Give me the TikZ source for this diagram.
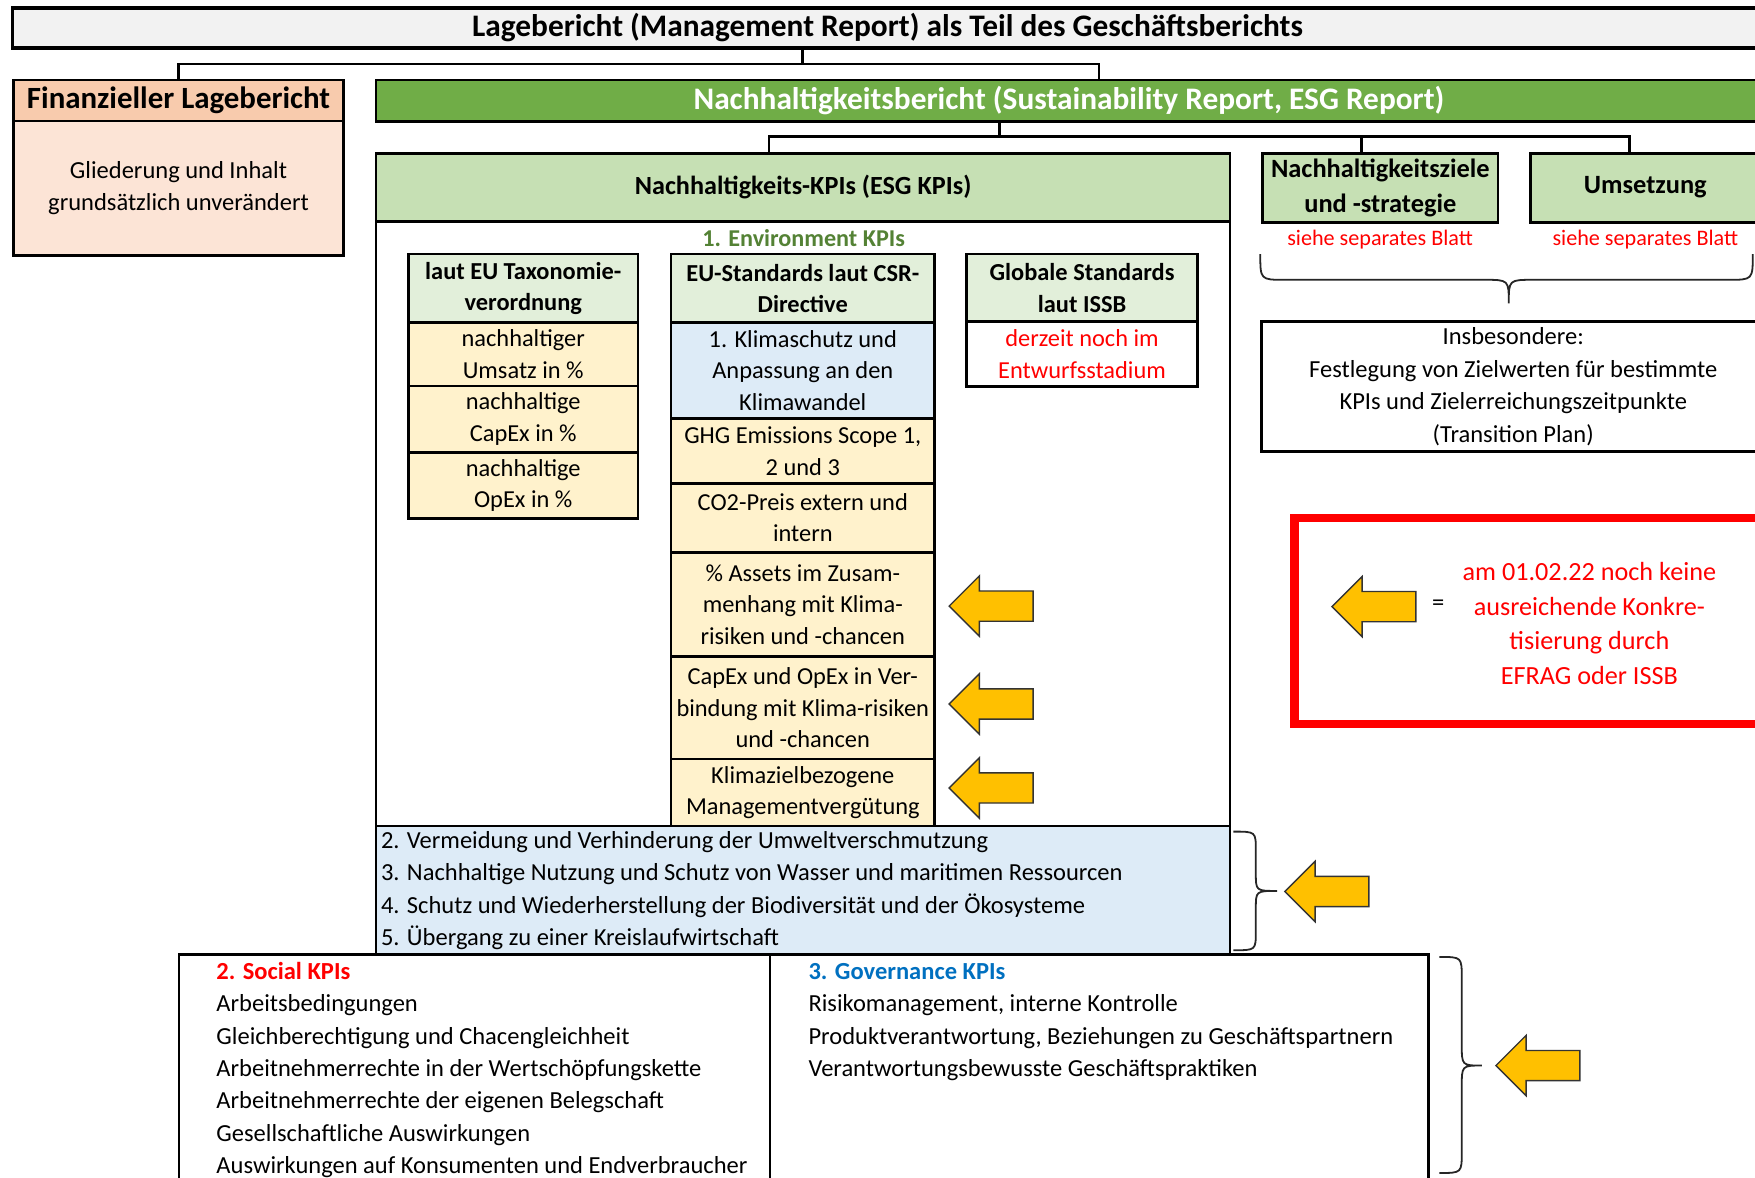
\documentclass[tikz,border=0pt]{standalone}
\usepackage{fontspec}
\setmainfont{Carlito}
\definecolor{titlegray}{HTML}{F2F2F2}
\definecolor{peachdark}{HTML}{F8CBAD}
\definecolor{peachlight}{HTML}{FCE4D6}
\definecolor{esggreen}{HTML}{70AD47}
\definecolor{headgreen}{HTML}{C6E0B4}
\definecolor{palegreen}{HTML}{E2EFDA}
\definecolor{cellyellow}{HTML}{FFF2CC}
\definecolor{cellblue}{HTML}{DDEBF7}
\definecolor{arrowgold}{HTML}{FFC000}
\definecolor{envgreen}{HTML}{548235}
\definecolor{govblue}{HTML}{0070C0}
\definecolor{alertred}{HTML}{FF0000}
\newcommand\cellbox[7]{\node[#6, minimum width={(#4-#2)*0.5pt}, minimum height={(#5-#3)*0.5pt}] (#1) at ({(#2+#4)/2},{(#3+#5)/2}) {#7};}
\newcommand\goldarrow[2]{\draw[goldarr] (#1,#2) -- ++(27,-27) -- ++(0,13.5) -- ++(48,0) -- ++(0,27) -- ++(-48,0) -- ++(0,13.5) -- cycle;}
\tikzset{
  boxline/.style={draw=black, line width=1.2pt, inner sep=0pt, outer sep=0pt},
  cell/.style={boxline, align=center, font=\fontsize{10.9}{14}\selectfont},
  headcell/.style={cell, fill=palegreen, font=\fontsize{10.9}{14}\selectfont\bfseries},
  yelcell/.style={cell, fill=cellyellow},
  plaintext/.style={inner sep=0pt, font=\fontsize{10.95}{14.5}\selectfont},
  boldtext/.style={inner sep=0pt, font=\fontsize{10.8}{15.5}\selectfont\bfseries, align=center},
  headbold/.style={inner sep=0pt, font=\fontsize{11.8}{15.5}\selectfont\bfseries, align=center},
  bigbold/.style={inner sep=0pt, font=\fontsize{14}{16}\selectfont\bfseries},
  notetext/.style={inner sep=0pt, text=alertred, font=\fontsize{9.9}{12}\selectfont},
  block/.style={plaintext, align=left},
  conn/.style={draw=black, line width=1.1pt},
  goldarr/.style={fill=arrowgold, draw=black!80, line width=0.6pt, line join=miter},
  bracestyle/.style={draw=black!85, line width=0.8pt}
}
\begin{document}
\begin{tikzpicture}[x=0.5pt, y=-0.5pt]
\useasboundingbox (0,0) rectangle (1568,1052);
\clip (0,0) rectangle (1568,1052);
\fill[white] (0,0) rectangle (1568,1052);

% title
\cellbox{title}{11}{7}{1600}{43}{boxline, fill=titlegray, line width=1.5pt}{}
\node[bigbold] (titlet) at (793,25) {Lagebericht (Management Report) als Teil des Geschäftsberichts};

% financial report
\cellbox{finh}{12}{71.5}{307}{108}{boxline, fill=peachdark, font=\fontsize{13.8}{16}\selectfont\bfseries}{Finanzieller Lagebericht}
\cellbox{finb}{12}{108}{307}{228}{cell, fill=peachlight, font=\fontsize{10.95}{14.5}\selectfont}{Gliederung und Inhalt\\grundsätzlich unverändert}

% ESG report
\cellbox{esg}{336}{71.5}{1600}{108.5}{boxline, fill=esggreen}{}
\node[bigbold, text=white] (esgt) at (955,90) {Nachhaltigkeitsbericht (Sustainability Report, ESG Report)};

% connectors top
\coordinate (j1) at (717,57);
\coordinate (j2) at (982,57);
\draw[conn] (title.south -| j1) -- (j1);
\draw[conn] (finh.north) |- (j2) -- (esg.north -| j2);
\coordinate (k1) at (893,122);
\coordinate (k2) at (687,122);
\coordinate (k3) at (1216.5,122);
\coordinate (k4) at (1456,122);
\draw[conn] (esg.south -| k1) -- (k1);

% KPI area
\cellbox{kpib}{336}{198}{1099}{853}{boxline, fill=white}{}
\cellbox{kpih}{336}{137}{1099}{198}{boxline, fill=headgreen, font=\fontsize{11.7}{14}\selectfont\bfseries}{Nachhaltigkeits-KPIs (ESG KPIs)}
\node[boldtext, text=envgreen] (envt) at (718,213) {1. Environment KPIs};

% Taxonomie table
\cellbox{taxh}{365}{227}{570}{288}{headcell}{laut EU Taxonomie-\\verordnung}
\cellbox{tax1}{365}{288}{570}{345}{yelcell}{nachhaltiger\\Umsatz in \%}
\cellbox{tax2}{365}{345}{570}{404}{yelcell}{nachhaltige\\CapEx in \%}
\cellbox{tax3}{365}{404}{570}{463.5}{yelcell}{nachhaltige\\OpEx in \%}

% CSR table
\cellbox{csrh}{599.5}{227}{835}{288}{headcell}{EU-Standards laut CSR-\\Directive}
\cellbox{csr1}{599.5}{288}{835}{374}{cell, fill=cellblue}{1. Klimaschutz und\\Anpassung an den\\Klimawandel}
\cellbox{csr2}{599.5}{374}{835}{432}{yelcell}{GHG Emissions Scope 1,\\2 und 3}
\cellbox{csr3}{599.5}{432}{835}{493.5}{yelcell}{CO2-Preis extern und\\intern}
\cellbox{csr4}{599.5}{493.5}{835}{586.5}{yelcell}{\% Assets im Zusam-\\menhang mit Klima-\\risiken und -chancen}
\cellbox{csr5}{599.5}{586.5}{835}{678}{yelcell}{CapEx und OpEx in Ver-\\bindung mit Klima-risiken\\und -chancen}
\cellbox{csr6}{599.5}{678}{835}{738}{yelcell}{Klimazielbezogene\\Managementvergütung}

% ISSB table
\cellbox{issbh}{863.5}{227}{1070}{287.5}{headcell}{Globale Standards\\laut ISSB}
\cellbox{issb1}{863.5}{287.5}{1070}{345.5}{cell, fill=white, text=alertred}{derzeit noch im\\Entwurfsstadium}

% arrows at CSR rows
\goldarrow{848}{541.5}
\goldarrow{848}{629}
\goldarrow{848}{704}

% remaining environment goals
\cellbox{envrest}{336}{738}{1099}{853}{boxline, fill=cellblue}{}
\node[block, anchor=west] (envrestt) at (340,795.5) {2. Vermeidung und Verhinderung der Umweltverschmutzung\\3. Nachhaltige Nutzung und Schutz von Wasser und maritimen Ressourcen\\4. Schutz und Wiederherstellung der Biodiversität und der Ökosysteme\\5. Übergang zu einer Kreislaufwirtschaft};
\draw[bracestyle] (1102,743) .. controls (1122,743) .. (1122,760) -- (1122,780) .. controls (1122,796) .. (1141,796) .. controls (1122,796) .. (1122,812) -- (1122,832) .. controls (1122,849) .. (1102,849);
\goldarrow{1148}{796.5}

% social and governance
\cellbox{socgov}{160}{853}{1276}{1080}{boxline, fill=white}{}
\coordinate (dv) at (688,853);
\draw[boxline] (dv) -- (socgov.south -| dv);
\node[block, anchor=west] (soct) at (193,956) {\textcolor{alertred}{\bfseries 2. Social KPIs}\\Arbeitsbedingungen\\Gleichberechtigung und Chacengleichheit\\Arbeitnehmerrechte in der Wertschöpfungskette\\Arbeitnehmerrechte der eigenen Belegschaft\\Gesellschaftliche Auswirkungen\\Auswirkungen auf Konsumenten und Endverbraucher};
\node[block, anchor=west] (govt) at (722,913) {\textcolor{govblue}{\bfseries 3. Governance KPIs}\\Risikomanagement, interne Kontrolle\\Produktverantwortung, Beziehungen zu Geschäftspartnern\\Verantwortungsbewusste Geschäftspraktiken};
\draw[bracestyle] (1286,855) .. controls (1306,855) .. (1306,874) -- (1306,933) .. controls (1306,952) .. (1324,952) .. controls (1306,952) .. (1306,971) -- (1306,1029) .. controls (1306,1048) .. (1286,1048);
\goldarrow{1336.5}{952}

% goals and implementation
\cellbox{ziele}{1128}{137}{1338.5}{199}{boxline, fill=headgreen, align=center, font=\fontsize{11.8}{15.5}\selectfont\bfseries}{Nachhaltigkeitsziele\\und -strategie}
\cellbox{ums}{1367.5}{137}{1600}{199}{boxline, fill=headgreen}{}
\node[headbold] (umst) at (1470,167) {Umsetzung};
\draw[conn] (kpih.north -| k2) -- (k2) -- (k4) -- (ums.north -| k4);
\draw[conn] (k3) -- (ziele.north -| k3);
\node[notetext] (note1) at (1233,214) {siehe separates Blatt};
\node[notetext] (note2) at (1470,214) {siehe separates Blatt};
\draw[bracestyle] (1126,227) .. controls (1126,250) .. (1148,250) -- (1326,250) .. controls (1348,250) .. (1348,271) .. controls (1348,250) .. (1370,250) -- (1544,250) .. controls (1566,250) .. (1566,227);
\cellbox{insb}{1127}{287}{1600}{403.5}{boxline, fill=white}{}
\node[plaintext, align=center] (insbt) at (1352,345.5) {Insbesondere:\\Festlegung von Zielwerten für bestimmte\\KPIs und Zielerreichungszeitpunkte\\(Transition Plan)};

% legend box
\cellbox{alert}{1156.5}{463}{1620}{647}{draw=alertred, line width=3.75pt, fill=white}{}
\goldarrow{1190}{542}
\node[plaintext] (eq) at (1285,541) {=};
\node[inner sep=0pt, align=center, text=alertred, font=\fontsize{11.7}{15.4}\selectfont] (alertt) at (1420,557) {am 01.02.22 noch keine\\ausreichende Konkre-\\tisierung durch\\EFRAG oder ISSB};
\end{tikzpicture}
\end{document}
